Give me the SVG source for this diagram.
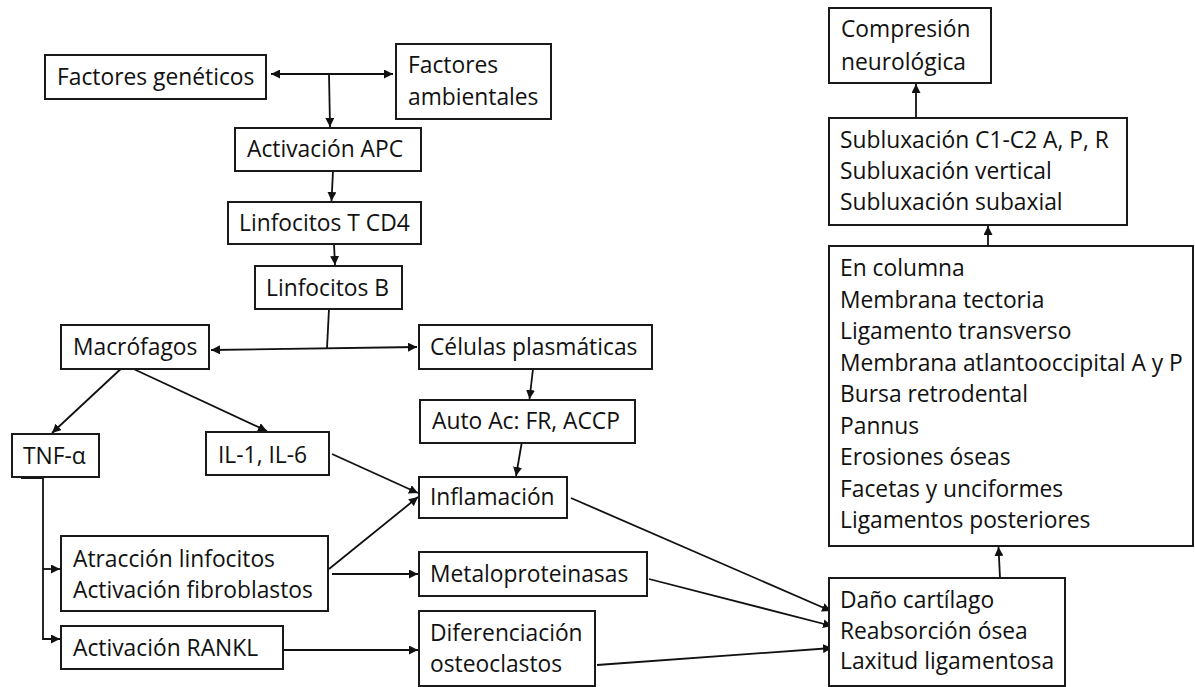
<svg xmlns="http://www.w3.org/2000/svg" width="1195" height="687" viewBox="0 0 1195 687">
<style>
  .box{fill:#fff;stroke:#1a1a1a;stroke-width:2}
  .t{font-family:"Open Sans","Liberation Sans",sans-serif;font-size:22.8px;font-weight:500;fill:#111}
  .c{fill:none;stroke:#111;stroke-width:1.8}
</style>
<defs>
  <marker id="ah" viewBox="0 0 10 10" refX="10" refY="5" markerUnits="userSpaceOnUse" markerWidth="9" markerHeight="9" orient="auto-start-reverse">
    <path d="M0,0 L10,5 L0,10 z" fill="#111"/>
  </marker>
</defs>
<rect width="1195" height="687" fill="#fff"/>
<g id="connectors">
  <line class="c" x1="271" y1="74" x2="393" y2="74" marker-start="url(#ah)" marker-end="url(#ah)"/>
  <line class="c" x1="329" y1="74" x2="330" y2="127" marker-end="url(#ah)"/>
  <line class="c" x1="333" y1="171" x2="331.5" y2="201" marker-end="url(#ah)"/>
  <line class="c" x1="334" y1="244" x2="335" y2="265" marker-end="url(#ah)"/>
  <line class="c" x1="329" y1="309" x2="327" y2="348"/>
  <line class="c" x1="211" y1="350" x2="417" y2="347" marker-start="url(#ah)" marker-end="url(#ah)"/>
  <line class="c" x1="125" y1="365" x2="52" y2="433" marker-end="url(#ah)"/>
  <line class="c" x1="125" y1="365" x2="267" y2="431" marker-end="url(#ah)"/>
  <line class="c" x1="332" y1="454" x2="418" y2="493" marker-end="url(#ah)"/>
  <line class="c" x1="533" y1="369" x2="529.5" y2="399" marker-end="url(#ah)"/>
  <line class="c" x1="521.7" y1="443" x2="516" y2="476" marker-end="url(#ah)"/>
  <line class="c" x1="21" y1="477.5" x2="43" y2="477.5" style="stroke-width:3"/>
  <path class="c" d="M43,477 V639 H60" marker-end="url(#ah)"/>
  <line class="c" x1="43" y1="569" x2="60" y2="569" marker-end="url(#ah)"/>
  <line class="c" x1="329" y1="569" x2="418" y2="497" marker-end="url(#ah)"/>
  <line class="c" x1="332" y1="574" x2="418" y2="574" marker-end="url(#ah)"/>
  <line class="c" x1="278" y1="650" x2="418" y2="650" marker-end="url(#ah)"/>
  <line class="c" x1="571" y1="498" x2="831" y2="611" marker-end="url(#ah)"/>
  <line class="c" x1="649" y1="579" x2="832" y2="626" marker-end="url(#ah)"/>
  <line class="c" x1="597" y1="665" x2="832" y2="648" marker-end="url(#ah)"/>
  <line class="c" x1="1000" y1="578" x2="998.5" y2="547" marker-end="url(#ah)"/>
  <line class="c" x1="988" y1="246" x2="988" y2="226" marker-end="url(#ah)"/>
  <line class="c" x1="916" y1="118" x2="916" y2="84" marker-end="url(#ah)"/>
</g>
<g id="geneticos"><rect class="box" x="45" y="55" width="221" height="44"/><text class="t" x="57" y="85">Factores genéticos</text></g>
<g id="ambientales"><rect class="box" x="396" y="44" width="155" height="75"/><text class="t" x="408" y="73">Factores</text><text class="t" x="408" y="105">ambientales</text></g>
<g id="apc"><rect class="box" x="235" y="128" width="186" height="43"/><text class="t" x="247" y="157">Activación APC</text></g>
<g id="cd4"><rect class="box" x="228" y="202" width="193" height="42"/><text class="t" x="239" y="231">Linfocitos T CD4</text></g>
<g id="linfb"><rect class="box" x="255" y="266" width="147" height="43"/><text class="t" x="266" y="296">Linfocitos B</text></g>
<g id="macrofagos"><rect class="box" x="61" y="325" width="148" height="44"/><text class="t" x="73" y="355">Macrófagos</text></g>
<g id="plasmaticas"><rect class="box" x="419" y="325" width="233" height="44"/><text class="t" x="430" y="355">Células plasmáticas</text></g>
<g id="tnf"><rect class="box" x="12" y="434" width="87" height="43"/><text class="t" x="23" y="464">TNF-α</text></g>
<g id="il"><rect class="box" x="206" y="432" width="123" height="43"/><text class="t" x="218" y="463">IL-1, IL-6</text></g>
<g id="autoac"><rect class="box" x="420" y="400" width="215" height="43"/><text class="t" x="432" y="429">Auto Ac: FR, ACCP</text></g>
<g id="inflamacion"><rect class="box" x="419" y="477" width="148" height="41"/><text class="t" x="430" y="505">Inflamación</text></g>
<g id="atraccion"><rect class="box" x="61" y="536" width="267" height="75"/><text class="t" x="73" y="567">Atracción linfocitos</text><text class="t" x="73" y="598">Activación fibroblastos</text></g>
<g id="metalo"><rect class="box" x="419" y="552" width="228" height="44"/><text class="t" x="430" y="582">Metaloproteinasas</text></g>
<g id="rankl"><rect class="box" x="61" y="626" width="222" height="43"/><text class="t" x="73" y="656">Activación RANKL</text></g>
<g id="diferenciacion"><rect class="box" x="419" y="611" width="176" height="75"/><text class="t" x="430" y="641">Diferenciación</text><text class="t" x="430" y="672">osteoclastos</text></g>
<g id="dano"><rect class="box" x="829" y="578" width="236" height="108"/><text class="t" x="840" y="608">Daño cartílago</text><text class="t" x="840" y="639">Reabsorción ósea</text><text class="t" x="840" y="669">Laxitud ligamentosa</text></g>
<g id="columna"><rect class="box" x="829" y="246" width="364" height="300"/>
  <text class="t" x="840" y="276">En columna</text>
  <text class="t" x="840" y="307.5">Membrana tectoria</text>
  <text class="t" x="840" y="339">Ligamento transverso</text>
  <text class="t" x="840" y="370.5">Membrana atlantooccipital A y P</text>
  <text class="t" x="840" y="402">Bursa retrodental</text>
  <text class="t" x="840" y="433.5">Pannus</text>
  <text class="t" x="840" y="465">Erosiones óseas</text>
  <text class="t" x="840" y="496.5">Facetas y unciformes</text>
  <text class="t" x="840" y="528">Ligamentos posteriores</text>
</g>
<g id="subluxacion"><rect class="box" x="829" y="118" width="298" height="107"/><text class="t" x="840" y="148">Subluxación C1-C2 A, P, R</text><text class="t" x="840" y="179">Subluxación vertical</text><text class="t" x="840" y="210">Subluxación subaxial</text></g>
<g id="compresion"><rect class="box" x="829" y="8" width="162" height="75"/><text class="t" x="841" y="37">Compresión</text><text class="t" x="841" y="70">neurológica</text></g>
</svg>
